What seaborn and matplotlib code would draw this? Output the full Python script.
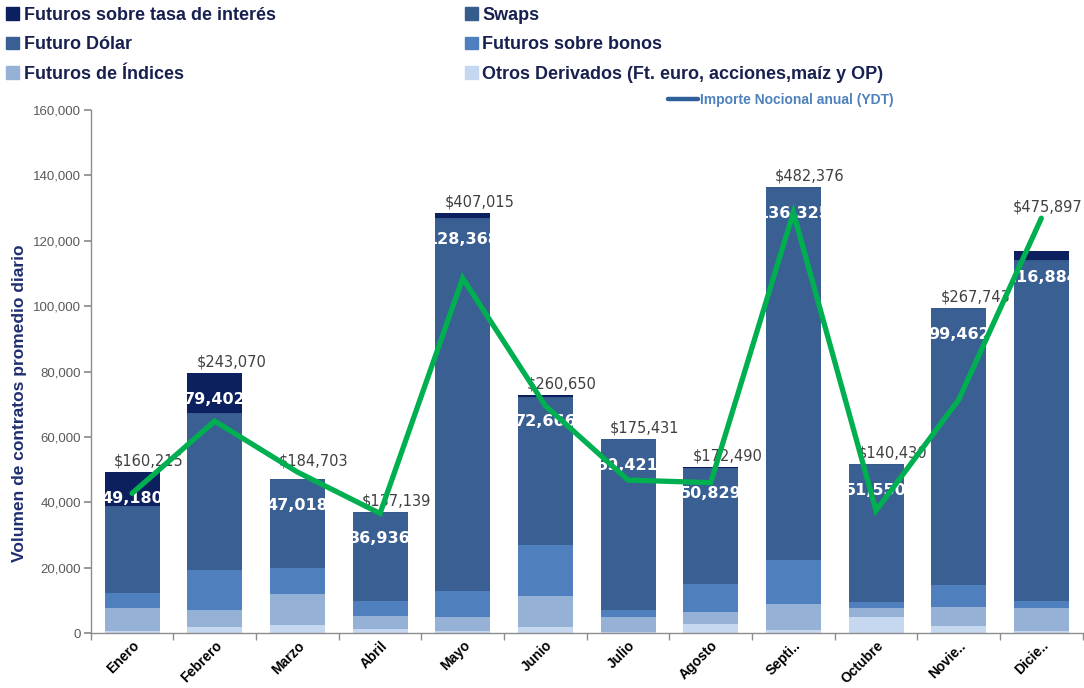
import numpy as np
import pandas as pd
import matplotlib
matplotlib.use("Agg")
import matplotlib.pyplot as plt
import seaborn as sns
from matplotlib.patches import Patch
from matplotlib.lines import Line2D
from matplotlib.ticker import FuncFormatter
from matplotlib.transforms import TransformedBbox

# ---------------- data ----------------
meses = ["Enero", "Febrero", "Marzo", "Abril", "Mayo", "Junio", "Julio",
         "Agosto", "Septi..", "Octubre", "Novie..", "Dicie.."]

otros = [700, 1700, 2500, 1300, 500, 1700, 300, 2800, 800, 4800, 2100, 700]
indices = [6800, 5200, 9300, 4000, 4500, 9600, 4700, 3600, 8200, 2800, 6000, 6900]
bonos = [4600, 12300, 8000, 4600, 7800, 15700, 2100, 8500, 13300, 2000, 6600, 2300]
dolar = [26480, 47702, 26918, 26736, 113668, 44866, 52021, 35329, 113525, 41650, 84362, 103734]
swaps = [400, 500, 300, 300, 600, 400, 300, 300, 500, 300, 400, 500]
tasa = [10200, 12000, 0, 0, 1300, 400, 0, 300, 0, 0, 0, 2750]

totales = [49180, 79402, 47018, 36936, 128368, 72666, 59421, 50829, 136325, 51550, 99462, 116884]
nocional = [160215, 243070, 184703, 137139, 407015, 260650, 175431, 172490, 482376, 140430, 267743, 475897]

yticks = [0, 20000, 40000, 60000, 80000, 100000, 120000, 140000, 160000]

lbl_tasa = "Futuros sobre tasa de interés"
lbl_swaps = "Swaps"
lbl_dolar = "Futuro Dólar"
lbl_bonos = "Futuros sobre bonos"
lbl_indices = "Futuros de Índices"
lbl_otros = "Otros Derivados (Ft. euro, acciones,maíz y OP)"
lbl_linea = "Importe Nocional anual (YDT)"
ylabel = "Volumen de contratos promedio diario"

# ---------------- style ----------------
sns.set_theme(style="white")
plt.rcParams["font.family"] = ["Liberation Sans", "DejaVu Sans"]

col_tasa = "#0c1f5e"
col_swaps = "#365b8d"
col_dolar = "#395f93"
col_bonos = "#4f80bd"
col_indices = "#95b2d6"
col_otros = "#c6d8ef"
col_line = "#00b050"

W, H = 1084, 688
fig = plt.figure(figsize=(W / 100, H / 100), dpi=100)
ax = fig.add_axes([90.7 / W, 55 / H, 992 / W, 523 / H])

capas = [
    (lbl_otros, otros, col_otros),
    (lbl_indices, indices, col_indices),
    (lbl_bonos, bonos, col_bonos),
    (lbl_dolar, dolar, col_dolar),
    (lbl_swaps, swaps, col_swaps),
    (lbl_tasa, tasa, col_tasa),
]

cum = np.zeros(len(meses))
acumulados = []
for name, vals, col in capas:
    cum = cum + np.asarray(vals, dtype=float)
    acumulados.append((name, cum.copy(), col))

for name, c, col in reversed(acumulados):
    df = pd.DataFrame({"mes": meses, "valor": c})
    sns.barplot(data=df, x="mes", y="valor", order=meses, color=col,
                saturation=1, width=0.665, linewidth=0, edgecolor="none",
                errorbar=None, ax=ax)

full_bars = ax.patches[:len(meses)]

# secondary axis for line
ax2 = ax.twinx()
sns.lineplot(x=np.arange(len(meses)), y=nocional, ax=ax2, color=col_line,
             linewidth=3.8, solid_joinstyle="miter")
ax2.set_ylim(0, 600000)
ax2.axis("off")

ax.set_xlim(-0.5, 11.5)
ax.set_ylim(0, 160000)
ax.set_yticks(yticks)
ax.yaxis.set_major_formatter(FuncFormatter(lambda v, p: f"{int(v):,}"))
ax.set_xlabel("")
ax.set_ylabel(ylabel, color="#1f2e6e", fontsize=12.5, fontweight="bold")
ax.yaxis.set_label_coords(-0.064, 0.44)

for s in ["top", "right"]:
    ax.spines[s].set_visible(False)
for s in ["left", "bottom"]:
    ax.spines[s].set_color("#8c8c8c")
    ax.spines[s].set_linewidth(1.0)

ax.tick_params(axis="y", which="major", length=5, color="#8c8c8c", direction="out",
               labelsize=9.5, labelcolor="#595959", pad=2, left=True)
ax.set_xticks(np.arange(-0.5, 12, 1), minor=True)
ax.tick_params(axis="x", which="major", length=0, pad=4)
ax.tick_params(axis="x", which="minor", length=5, color="#8c8c8c", direction="out", bottom=True)
for t in ax.get_xticklabels():
    t.set_rotation(45)
    t.set_ha("right")
    t.set_rotation_mode("anchor")
    t.set_fontweight("bold")
    t.set_fontsize(10)
    t.set_color("black")

# labels
ratio = 600000 / 160000
fig.canvas.draw()
renderer = fig.canvas.get_renderer()
for i in range(len(meses)):
    ytop = max(totales[i], nocional[i] / ratio)
    a = ax.annotate(f"${nocional[i]:,}", xy=(i, ytop), xytext=(12, 8),
                    textcoords="offset points", ha="center", va="center",
                    fontsize=10.5, color="#404040", family="DejaVu Sans",
                    annotation_clip=False)
    ext = a.get_window_extent(renderer)
    if ext.x1 > W - 2:
        shift = (ext.x1 - (W - 2)) * 72 / 100
        a.set_position((12 - shift, 8))
    t = ax.annotate(f"{totales[i]:,}", xy=(i, totales[i]), xytext=(0, -19),
                    textcoords="offset points", ha="center", va="center",
                    fontsize=11.5, fontweight="bold", color="white",
                    family="DejaVu Sans")
    bb = full_bars[i].get_bbox()
    t.set_clip_on(True)
    t.set_clip_box(TransformedBbox(bb, ax.transData))

# legends
handles = [
    Patch(color=col_tasa, label=lbl_tasa),
    Patch(color=col_dolar, label=lbl_dolar),
    Patch(color=col_indices, label=lbl_indices),
    Patch(color=col_swaps, label=lbl_swaps),
    Patch(color=col_bonos, label=lbl_bonos),
    Patch(color=col_otros, label=lbl_otros),
]
leg = fig.legend(handles=handles, ncol=2, loc="upper left",
                 bbox_to_anchor=(-0.004, 1.006), frameon=False,
                 prop={"weight": "bold", "size": 13},
                 labelcolor="#17204f", handlelength=0.7, handleheight=0.7,
                 handletextpad=0.25, columnspacing=10.5, labelspacing=0.7,
                 borderaxespad=0.2)

leg2 = fig.legend(handles=[Line2D([], [], color="#2f5f98", linewidth=3.2)],
                  labels=[lbl_linea], loc="center left",
                  bbox_to_anchor=(662 / W, 1 - 100 / H), frameon=False,
                  prop={"weight": "bold", "size": 10}, labelcolor="#4f81bd",
                  handlelength=2.2, handletextpad=0.1, borderaxespad=0)

fig.savefig("out.png", dpi=100)
